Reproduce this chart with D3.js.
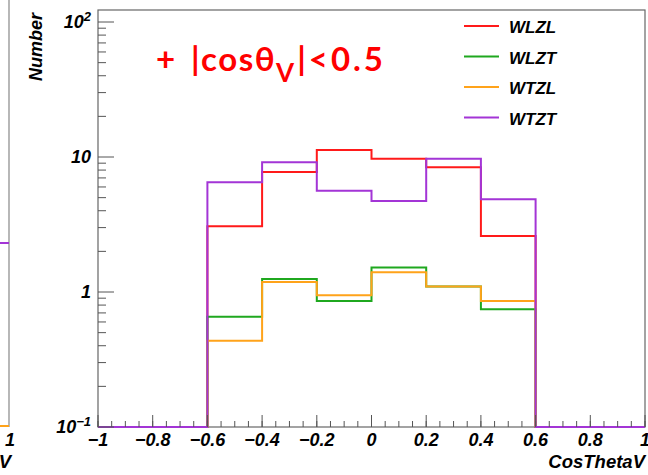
<!DOCTYPE html>
<html>
<head>
<meta charset="utf-8">
<script src="https://cdn.jsdelivr.net/npm/d3@7"></script>
<style>
  body { margin: 0; background: #fff; }
  svg { display: block; }
  .lab { font-family: "Liberation Sans", Arial, sans-serif; font-weight: bold; font-style: italic; }
</style>
</head>
<body>
<div id="chart"></div>
<script>
// bin edges of the CosThetaV histogram
var binEdges = [-1, -0.8, -0.6, -0.4, -0.2, 0, 0.2, 0.4, 0.6, 0.8, 1];

// events per bin for each polarisation (0 = empty bin)
var wlzl = [0, 0, 3.07, 7.74, 11.27, 9.72, 8.39, 2.60, 0, 0];
var wlzt = [0, 0, 0.656, 1.25, 0.858, 1.52, 1.10, 0.744, 0, 0];
var wtzl = [0, 0, 0.436, 1.186, 0.945, 1.40, 1.10, 0.858, 0, 0];
var wtzt = [0, 0, 6.50, 9.13, 5.63, 4.72, 9.72, 4.86, 0, 0];

var seriesNames = ["WLZL", "WLZT", "WTZL", "WTZT"];
var seriesColors = ["#ff1a1a", "#1fa81f", "#ffa31a", "#a335d6"];

var xTicks = [-1, -0.8, -0.6, -0.4, -0.2, 0, 0.2, 0.4, 0.6, 0.8, 1];
var yTicks = [0.1, 1, 10, 100];

// last values of the neighbouring panel that is cut off on the left
var leftPanelEdge = [2.31, 0.1];

var W = 648, H = 475;
var margin = { top: 10, right: 3, bottom: 48, left: 98 };
var yMax = Math.pow(10, 2.089);

var svg = d3.select("#chart").append("svg")
    .attr("width", W).attr("height", H);

var x = d3.scaleLinear().domain([-1, 1]).range([margin.left, W - margin.right]);
var y = d3.scaleLog().domain([0.1, yMax]).range([H - margin.bottom, margin.top]);

// neighbouring panel fragment
var xl = d3.scaleLinear().domain([0.9, 1]).range([-46, 9]);
svg.append("line").attr("x1", 9).attr("x2", 9).attr("y1", 0).attr("y2", y(0.1))
    .attr("stroke", "#888").attr("stroke-width", 1.2);
svg.append("line").attr("x1", xl(0.9)).attr("x2", xl(1)).attr("y1", y(leftPanelEdge[0])).attr("y2", y(leftPanelEdge[0]))
    .attr("stroke", seriesColors[3]).attr("stroke-width", 2);
svg.append("line").attr("x1", xl(0.9)).attr("x2", xl(1)).attr("y1", y(leftPanelEdge[1]) - 1).attr("y2", y(leftPanelEdge[1]) - 1)
    .attr("stroke", seriesColors[2]).attr("stroke-width", 2);
svg.append("text").attr("class", "lab").attr("x", 10).attr("y", 446)
    .attr("text-anchor", "middle").attr("font-size", 18).text("1");
svg.append("text").attr("class", "lab").attr("x", 11).attr("y", 468)
    .attr("text-anchor", "end").attr("font-size", 18.5).text("V");

// frame
svg.append("rect")
    .attr("x", margin.left).attr("y", margin.top)
    .attr("width", W - margin.right - margin.left)
    .attr("height", H - margin.bottom - margin.top)
    .attr("fill", "none").attr("stroke", "#666").attr("stroke-width", 1.2);

// histograms drawn as steps, empty bins sit on the lower edge
function stepPath(vals) {
    var pts = [[binEdges[0], 0.1]];
    vals.forEach(function (v, i) {
        var vv = Math.max(v, 0.1);
        pts.push([binEdges[i], vv]);
        pts.push([binEdges[i + 1], vv]);
    });
    pts.push([binEdges[binEdges.length - 1], 0.1]);
    return d3.line().x(function (d) { return x(d[0]); }).y(function (d) { return y(d[1]); })(pts);
}

var allSeries = [wlzl, wlzt, wtzl, wtzt];
allSeries.forEach(function (s, i) {
    svg.append("path")
        .attr("d", stepPath(s))
        .attr("fill", "none")
        .attr("stroke", seriesColors[i])
        .attr("stroke-width", 2);
});

// x axis ticks (inside)
var xMinor = d3.range(-1, 1.0001, 0.05);
var yBase = H - margin.bottom;
svg.selectAll(".xminor").data(xMinor).enter().append("line")
    .attr("x1", function (d) { return x(d); }).attr("x2", function (d) { return x(d); })
    .attr("y1", yBase).attr("y2", yBase - 6)
    .attr("stroke", "#555").attr("stroke-width", 1);
svg.selectAll(".xmajor").data(xTicks).enter().append("line")
    .attr("x1", function (d) { return x(d); }).attr("x2", function (d) { return x(d); })
    .attr("y1", yBase).attr("y2", yBase - 12)
    .attr("stroke", "#555").attr("stroke-width", 1);
svg.selectAll(".xlab").data(xTicks).enter().append("text")
    .attr("class", "lab")
    .attr("x", function (d) { return x(d); })
    .attr("y", 446)
    .attr("text-anchor", "middle")
    .attr("font-size", 18)
    .text(function (d) { return d3.format("")(d).replace("-", "\u2212"); });

svg.append("text").attr("class", "lab")
    .attr("x", W - 3).attr("y", 468)
    .attr("text-anchor", "end").attr("font-size", 18.5)
    .text("CosThetaV");

// y axis ticks (inside)
var yMinor = [];
[0.1, 1, 10].forEach(function (dec) {
    for (var k = 2; k <= 9; k++) yMinor.push(dec * k);
});
svg.selectAll(".yminor").data(yMinor).enter().append("line")
    .attr("x1", margin.left).attr("x2", margin.left + 8)
    .attr("y1", function (d) { return y(d); }).attr("y2", function (d) { return y(d); })
    .attr("stroke", "#555").attr("stroke-width", 1);
svg.selectAll(".ymajor").data(yTicks).enter().append("line")
    .attr("x1", margin.left).attr("x2", margin.left + 16)
    .attr("y1", function (d) { return y(d); }).attr("y2", function (d) { return y(d); })
    .attr("stroke", "#555").attr("stroke-width", 1);

var yLab = svg.selectAll(".ylab").data(yTicks).enter().append("text")
    .attr("class", "lab")
    .attr("x", 91)
    .attr("y", function (d) { return y(d) + 6; })
    .attr("text-anchor", "end")
    .attr("font-size", 18);
yLab.each(function (d) {
    var t = d3.select(this);
    var e = Math.round(Math.log10(d));
    if (e === 0 || e === 1) {
        t.text(d3.format("")(d));
    } else {
        t.append("tspan").text("10");
        t.append("tspan").attr("dy", -7).attr("font-size", 13)
            .text(e < 0 ? "\u2212" + (-e) : String(e));
    }
});

svg.append("text").attr("class", "lab")
    .attr("transform", "translate(42,13) rotate(-90)")
    .attr("text-anchor", "end").attr("font-size", 18)
    .text("Number");

// legend
var leg = svg.selectAll(".leg").data(seriesNames).enter().append("g")
    .attr("transform", function (d, i) { return "translate(464," + (26 + i * 30.5) + ")"; });
leg.append("line").attr("x1", 0).attr("x2", 35).attr("y1", 0).attr("y2", 0)
    .attr("stroke", function (d, i) { return seriesColors[i]; }).attr("stroke-width", 2);
leg.append("text").attr("class", "lab")
    .attr("x", 45).attr("y", 7).attr("font-size", 17)
    .text(function (d) { return d; });

// cut annotation
var ann = svg.append("text")
    .attr("y", 71)
    .attr("font-family", "Lato, 'Noto Sans', sans-serif")
    .attr("font-weight", "bold")
    .attr("font-size", 33)
    .attr("fill", "#ff0000");
ann.append("tspan").attr("x", 156).text("+");
ann.append("tspan").attr("x", 191).attr("letter-spacing", 1.5).text("|cos\u03b8");
ann.append("tspan").attr("dy", 11).attr("font-size", 26).text("V");
ann.append("tspan").attr("dy", -11).attr("dx", 3).attr("letter-spacing", 3).text("|<0.5");
</script>
</body>
</html>
